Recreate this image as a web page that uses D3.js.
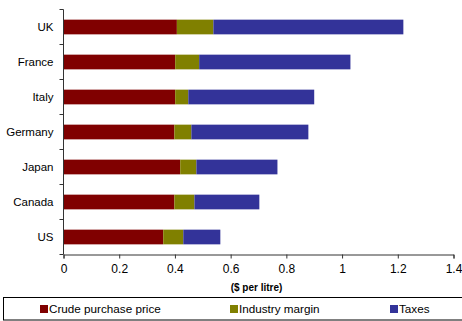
<!DOCTYPE html>
<html>
<head>
<meta charset="utf-8">
<script src="https://cdn.jsdelivr.net/npm/d3@7"></script>
<style>
  body { margin: 0; background: #fff; }
  svg { display: block; font-family: "Liberation Sans", Arial, sans-serif; }
</style>
</head>
<body>
<div id="chart"></div>
<script>
// data ($ per litre)
const countries = ["UK", "France", "Italy", "Germany", "Japan", "Canada", "US"];
const crude  = [0.407, 0.401, 0.401, 0.398, 0.419, 0.398, 0.358];
const margin = [0.131, 0.086, 0.047, 0.061, 0.058, 0.072, 0.072];
const taxes  = [0.682, 0.543, 0.452, 0.420, 0.291, 0.233, 0.133];
const seriesNames = ["Crude purchase price", "Industry margin", "Taxes"];
const xTicks = [0, 0.2, 0.4, 0.6, 0.8, 1, 1.2, 1.4];

const colors = ["#800000", "#808000", "#333399"];

const width = 462, height = 321;
const plot = {left: 63.5, right: 453.5, top: 9.5, bottom: 254.5};

const rows = countries.map((c, i) => ({country: c, crude: crude[i], margin: margin[i], taxes: taxes[i]}));
const keys = ["crude", "margin", "taxes"];
const stacked = d3.stack().keys(keys)(rows);

const svg = d3.select("#chart").append("svg")
    .attr("width", width)
    .attr("height", height);

const x = d3.scaleLinear().domain([0, 1.4]).range([plot.left, plot.right]);
const y = d3.scaleBand().domain(countries).range([plot.top, plot.bottom]).paddingInner(0.58).paddingOuter(0.29);

// bars
svg.append("g")
  .selectAll("g")
  .data(stacked)
  .join("g")
    .attr("fill", (d, i) => colors[i])
  .selectAll("rect")
  .data(d => d)
  .join("rect")
    .attr("x", d => x(d[0]))
    .attr("width", d => x(d[1]) - x(d[0]))
    .attr("y", d => y(d.data.country))
    .attr("height", y.bandwidth());

// x axis
const xAxis = svg.append("g")
    .attr("transform", `translate(0,${plot.bottom})`)
    .call(d3.axisBottom(x).tickValues(xTicks).tickFormat(d3.format("~g")).tickSize(4).tickSizeOuter(4).tickPadding(6));
xAxis.select(".domain").attr("stroke", "#333");
xAxis.selectAll(".tick line").attr("stroke", "#333");
xAxis.selectAll("text").attr("font-size", 12).attr("fill", "#000").attr("font-family", "Liberation Sans, Arial, sans-serif");

// y axis: ticks sit between categories
svg.append("line")
    .attr("x1", plot.left).attr("x2", plot.left)
    .attr("y1", plot.top).attr("y2", plot.bottom)
    .attr("stroke", "#333");
const step = (plot.bottom - plot.top) / countries.length;
svg.append("g")
  .selectAll("line")
  .data(d3.range(countries.length + 1))
  .join("line")
    .attr("x1", plot.left - 4).attr("x2", plot.left)
    .attr("y1", i => plot.top + i * step).attr("y2", i => plot.top + i * step)
    .attr("stroke", "#333");
svg.append("g")
  .selectAll("text")
  .data(countries)
  .join("text")
    .attr("x", plot.left - 10)
    .attr("y", d => y(d) + y.bandwidth() / 2)
    .attr("dy", "0.35em")
    .attr("text-anchor", "end")
    .attr("font-size", 11.5)
    .text(d => d);

// axis title
svg.append("text")
    .attr("x", (plot.left + plot.right) / 2 - 2)
    .attr("y", 291)
    .attr("text-anchor", "middle")
    .attr("font-size", 10)
    .attr("font-weight", "bold")
    .text("($ per litre)");

// legend
svg.append("rect")
    .attr("x", 3.5).attr("y", 297.5)
    .attr("width", 460).attr("height", 22.5)
    .attr("fill", "none")
    .attr("stroke", "#000");
const legendX = [40, 230, 390];
const legend = svg.append("g")
  .selectAll("g")
  .data(seriesNames)
  .join("g")
    .attr("transform", (d, i) => `translate(${legendX[i]},305)`);
legend.append("rect")
    .attr("width", 8).attr("height", 8)
    .attr("fill", (d, i) => colors[i]);
legend.append("text")
    .attr("x", 9)
    .attr("y", 4)
    .attr("dy", "0.35em")
    .attr("font-size", 11.7)
    .text(d => d);
</script>
</body>
</html>
